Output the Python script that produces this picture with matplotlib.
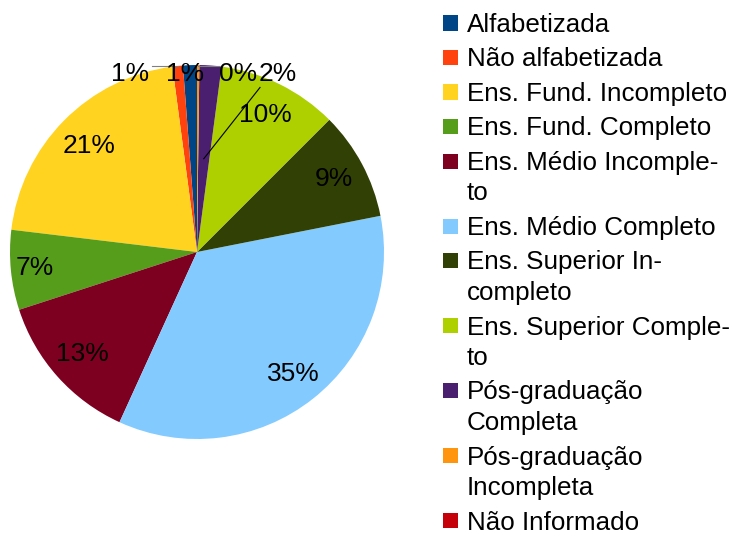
import numpy as np
import matplotlib
matplotlib.use('Agg')
import matplotlib.pyplot as plt
from matplotlib.patches import Rectangle

plt.rcParams['font.family'] = ['Liberation Sans', 'DejaVu Sans']

# Dados (percentuais)
categorias = ['Alfabetizada', 'Não alfabetizada', 'Ens. Fund. Incompleto',
              'Ens. Fund. Completo', 'Ens. Médio Incompleto',
              'Ens. Médio Completo', 'Ens. Superior Incompleto',
              'Ens. Superior Completo', 'Pós-graduação Completa',
              'Pós-graduação Incompleta', 'Não Informado']
legenda = ['Alfabetizada', 'Não alfabetizada', 'Ens. Fund. Incompleto',
           'Ens. Fund. Completo', 'Ens. Médio Incomple-\nto',
           'Ens. Médio Completo', 'Ens. Superior In-\ncompleto',
           'Ens. Superior Comple-\nto', 'Pós-graduação\nCompleta',
           'Pós-graduação\nIncompleta', 'Não Informado']
valores = [1.2, 0.9, 21.0, 6.9, 13.2, 34.9, 9.4, 10.4, 1.9, 0.2, 0.0]
rotulos = ['1%', '1%', '21%', '7%', '13%', '35%', '9%', '10%', '2%', '0%', '']
cores = ['#004586', '#ff420e', '#ffd320', '#579d1c', '#7e0021', '#83caff',
         '#314004', '#aecf00', '#4b1f6f', '#ff950e', '#c5000b']

fs = 19
W, H = 732, 541

fig = plt.figure(figsize=(W / 100, H / 100), dpi=100)
ax = fig.add_axes([10 / W, 102 / H, 374 / W, 374 / H])
wedges, _ = ax.pie(valores, colors=cores, startangle=90, counterclock=True,
                   radius=1, wedgeprops=dict(linewidth=0))
ax.set_xlim(-1, 1)
ax.set_ylim(-1, 1)
ax.axis('off')

# rotulos internos
dist = [0, 0, 0.81, 0.87, 0.82, 0.83, 0.83, 0.82, 0, 0, 0]
for i, w in enumerate(wedges):
    if dist[i] == 0:
        continue
    ang = np.deg2rad((w.theta1 + w.theta2) / 2)
    ax.text(dist[i] * np.cos(ang), dist[i] * np.sin(ang), rotulos[i],
            ha='center', va='center', fontsize=fs)


def ponto(i, r):
    ang = np.deg2rad((wedges[i].theta1 + wedges[i].theta2) / 2)
    return r * np.cos(ang), r * np.sin(ang)


# rotulos externos das fatias pequenas
externos = {0: (-0.064, 0.95), 1: (-0.358, 0.95),
            9: (0.219, 0.95), 8: (0.433, 0.95)}
for i, (tx, ty) in externos.items():
    ax.text(tx, ty, rotulos[i], ha='center', va='center', fontsize=fs,
            zorder=5)

px, py = ponto(1, 1.0)
ax.plot([-0.24, px], [py, py], color='#808080', lw=0.8, clip_on=False)
px, py = ponto(9, 1.0)
ax.plot([px, 0.12], [0.995, 0.995], color='#808080', lw=0.8, clip_on=False)
px, py = ponto(8, 0.5)
ax.plot([0.337, px], [0.88, py], color='black', lw=0.8, clip_on=False)

# legenda desenhada a mao (quadrado alinhado com a primeira linha)
y = 23
for cor, texto in zip(cores, legenda):
    fig.add_artist(Rectangle((443 / W, 1 - (y + 7.5) / H), 15.5 / W, 15 / H,
                             facecolor=cor, edgecolor='none',
                             transform=fig.transFigure))
    linhas = texto.split('\n')
    for j, lin in enumerate(linhas):
        fig.text(467 / W, 1 - (y + 9 + 30.5 * j) / H, lin, fontsize=18.7,
                 va='baseline', ha='left')
    y += 34.5 + 30.5 * (len(linhas) - 1)

fig.savefig('out.png', dpi=100)
